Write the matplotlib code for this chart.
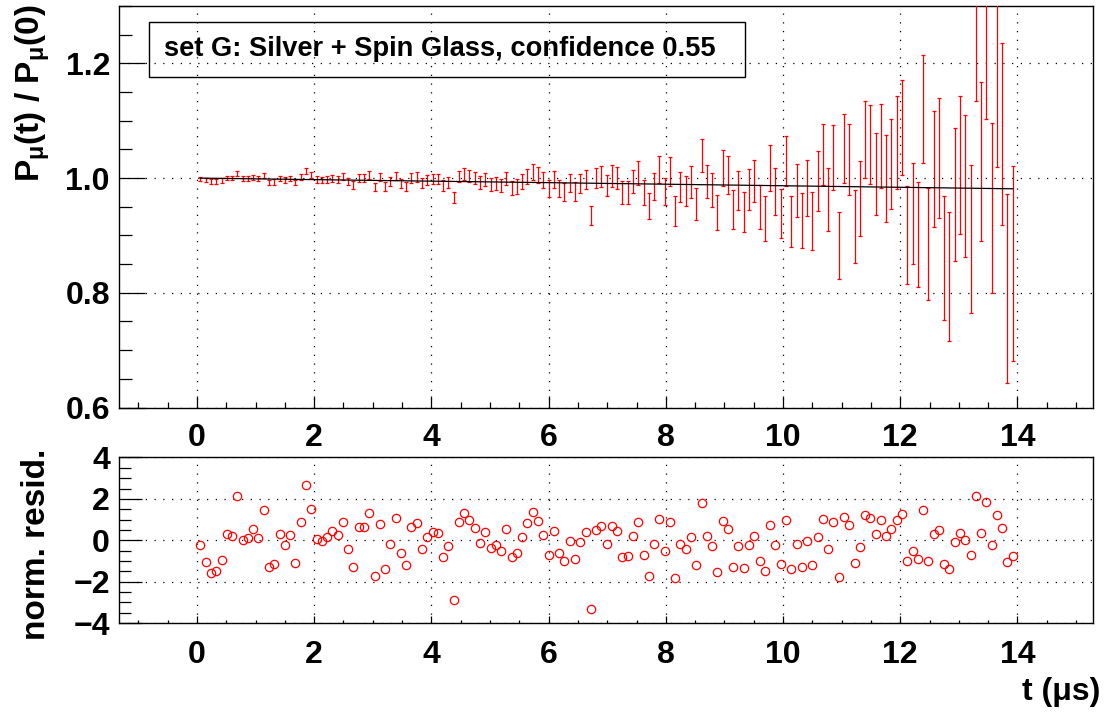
import numpy as np
import matplotlib
matplotlib.use("Agg")
import matplotlib.pyplot as plt
from matplotlib.ticker import MultipleLocator, FormatStrFormatter
from matplotlib.patches import Rectangle

plt.rcParams['font.family'] = ['Liberation Sans', 'DejaVu Sans']
plt.rcParams['font.weight'] = 'bold'
plt.rcParams['mathtext.fontset'] = 'custom'
plt.rcParams['mathtext.rm'] = 'Liberation Sans:bold'
plt.rcParams['mathtext.it'] = 'Liberation Sans:bold'
plt.rcParams['mathtext.bf'] = 'Liberation Sans:bold'

# time bins (us)
t = [0.06, 0.15, 0.24, 0.33, 0.42, 0.51, 0.60, 0.69, 0.78, 0.87,
     0.96, 1.05, 1.14, 1.23, 1.32, 1.41, 1.50, 1.59, 1.68, 1.77,
     1.86, 1.95, 2.04, 2.13, 2.22, 2.31, 2.40, 2.49, 2.58, 2.67,
     2.76, 2.85, 2.94, 3.03, 3.12, 3.21, 3.30, 3.39, 3.48, 3.57,
     3.66, 3.75, 3.84, 3.93, 4.02, 4.11, 4.20, 4.29, 4.38, 4.47,
     4.56, 4.65, 4.74, 4.83, 4.92, 5.01, 5.10, 5.19, 5.28, 5.37,
     5.46, 5.55, 5.64, 5.73, 5.82, 5.91, 6.00, 6.09, 6.18, 6.27,
     6.36, 6.45, 6.54, 6.63, 6.72, 6.81, 6.90, 6.99, 7.08, 7.17,
     7.26, 7.35, 7.44, 7.53, 7.62, 7.71, 7.80, 7.89, 7.98, 8.07,
     8.16, 8.25, 8.34, 8.43, 8.52, 8.61, 8.70, 8.79, 8.88, 8.97,
     9.06, 9.15, 9.24, 9.33, 9.42, 9.51, 9.60, 9.69, 9.78, 9.87,
     9.96, 10.05, 10.14, 10.23, 10.32, 10.41, 10.50, 10.59, 10.68, 10.77,
     10.86, 10.95, 11.04, 11.13, 11.22, 11.31, 11.40, 11.49, 11.58, 11.67,
     11.76, 11.85, 11.94, 12.03, 12.12, 12.21, 12.30, 12.39, 12.48, 12.57,
     12.66, 12.75, 12.84, 12.93, 13.02, 13.11, 13.20, 13.29, 13.38, 13.47,
     13.56, 13.65, 13.74, 13.83, 13.92]

# P(t)/P(0)
pol = [0.9991, 0.9962, 0.9940, 0.9940, 0.9958, 1.0005, 0.9999, 1.0078, 0.9991, 0.9992,
       1.0011, 0.9990, 1.0051, 0.9925, 0.9929, 0.9996, 0.9968, 0.9992, 0.9922, 1.0023,
       1.0117, 1.0055, 0.9976, 0.9971, 0.9980, 0.9997, 0.9982, 1.0020, 0.9939, 0.9881,
       1.0005, 1.0005, 1.0050, 0.9840, 1.0013, 0.9855, 0.9943, 1.0037, 0.9907, 0.9856,
       1.0002, 1.0017, 0.9915, 0.9963, 0.9980, 0.9978, 0.9869, 0.9918, 0.9666, 1.0025,
       1.0074, 1.0041, 0.9998, 0.9921, 0.9980, 0.9889, 0.9908, 0.9870, 0.9993, 0.9831,
       0.9850, 0.9944, 1.0033, 1.0104, 1.0052, 0.9959, 0.9821, 0.9982, 0.9821, 0.9762,
       0.9912, 0.9765, 0.9900, 0.9977, 0.9346, 0.9997, 1.0032, 0.9874, 1.0033, 0.9995,
       0.9743, 0.9752, 0.9941, 1.0084, 0.9748, 0.9508, 0.9855, 1.0142, 0.9768, 1.0112,
       0.9426, 0.9843, 0.9775, 0.9931, 0.9555, 1.0395, 0.9940, 0.9796, 0.9402, 1.0172,
       1.0052, 0.9454, 0.9778, 0.9410, 0.9798, 0.9951, 0.9498, 0.9295, 1.0174, 0.9769,
       0.9384, 1.0301, 0.9239, 0.9780, 0.9260, 0.9832, 0.9251, 0.9951, 1.0406, 0.9620,
       1.0358, 0.8829, 1.0512, 1.0320, 0.9164, 0.9640, 1.0670, 1.0582, 1.0067, 1.0558,
       0.9987, 1.0248, 1.0619, 1.0889, 0.9003, 0.9378, 0.9014, 1.1205, 0.8845, 1.0156,
       1.0355, 0.8603, 0.8289, 0.9711, 1.0235, 0.9862, 0.8933, 1.2678, 1.0291, 1.2465,
       0.9479, 1.1717, 1.0768, 0.8075, 0.8506]

pol_err = [0.0035, 0.0035, 0.0036, 0.0037, 0.0038, 0.0039, 0.0039, 0.0040, 0.0041, 0.0042,
           0.0043, 0.0044, 0.0045, 0.0046, 0.0047, 0.0048, 0.0049, 0.0050, 0.0051, 0.0052,
           0.0053, 0.0054, 0.0055, 0.0056, 0.0058, 0.0059, 0.0060, 0.0061, 0.0063, 0.0064,
           0.0065, 0.0067, 0.0068, 0.0070, 0.0071, 0.0073, 0.0074, 0.0076, 0.0078, 0.0079,
           0.0081, 0.0083, 0.0084, 0.0086, 0.0088, 0.0090, 0.0092, 0.0094, 0.0096, 0.0098,
           0.0100, 0.0103, 0.0105, 0.0107, 0.0110, 0.0112, 0.0115, 0.0117, 0.0120, 0.0123,
           0.0126, 0.0128, 0.0131, 0.0134, 0.0137, 0.0140, 0.0144, 0.0147, 0.0150, 0.0154,
           0.0157, 0.0161, 0.0164, 0.0169, 0.0171, 0.0175, 0.0180, 0.0184, 0.0189, 0.0193,
           0.0198, 0.0203, 0.0208, 0.0213, 0.0218, 0.0224, 0.0229, 0.0235, 0.0241, 0.0247,
           0.0253, 0.0259, 0.0265, 0.0272, 0.0278, 0.0285, 0.0293, 0.0301, 0.0309, 0.0317,
           0.0326, 0.0334, 0.0343, 0.0352, 0.0362, 0.0371, 0.0381, 0.0391, 0.0402, 0.0413,
           0.0424, 0.0435, 0.0447, 0.0461, 0.0474, 0.0489, 0.0503, 0.0518, 0.0533, 0.0549,
           0.0565, 0.0582, 0.0600, 0.0617, 0.0636, 0.0655, 0.0674, 0.0694, 0.0715, 0.0736,
           0.0758, 0.0780, 0.0803, 0.0827, 0.0852, 0.0882, 0.0913, 0.0945, 0.0978, 0.1013,
           0.1048, 0.1085, 0.1123, 0.1163, 0.1203, 0.1246, 0.1289, 0.1335, 0.1381, 0.1430,
           0.1480, 0.1532, 0.1586, 0.1641, 0.1699]

# normalised residuals
resid = [-0.23, -1.03, -1.58, -1.51, -0.95, 0.32, 0.19, 2.16, 0.03, 0.10,
         0.55, 0.10, 1.47, -1.30, -1.13, 0.32, -0.24, 0.26, -1.10, 0.90,
         2.69, 1.50, 0.06, -0.02, 0.18, 0.47, 0.23, 0.87, -0.43, -1.30,
         0.64, 0.64, 1.30, -1.72, 0.77, -1.40, -0.18, 1.08, -0.60, -1.21,
         0.63, 0.81, -0.40, 0.18, 0.39, 0.37, -0.82, -0.27, -2.87, 0.87,
         1.34, 1.00, 0.58, -0.13, 0.42, -0.39, -0.21, -0.52, 0.53, -0.79,
         -0.61, 0.14, 0.82, 1.35, 0.95, 0.27, -0.69, 0.43, -0.64, -1.00,
         -0.02, -0.93, -0.08, 0.39, -3.30, 0.50, 0.69, -0.18, 0.68, 0.47,
         -0.81, -0.74, 0.19, 0.87, -0.69, -1.74, -0.18, 1.05, -0.52, 0.89,
         -1.84, -0.18, -0.43, 0.16, -1.19, 1.79, 0.19, -0.29, -1.55, 0.92,
         0.53, -1.27, -0.29, -1.32, -0.21, 0.21, -0.98, -1.47, 0.76, -0.24,
         -1.14, 1.00, -1.40, -0.18, -1.27, -0.06, -1.21, 0.18, 1.03, -0.43,
         0.89, -1.76, 1.10, 0.76, -1.08, -0.32, 1.22, 1.06, 0.31, 0.97,
         0.19, 0.52, 0.97, 1.27, -0.98, -0.52, -0.90, 1.45, -1.01, 0.32,
         0.50, -1.13, -1.37, -0.10, 0.34, 0.03, -0.69, 2.14, 0.34, 1.85,
         -0.23, 1.24, 0.60, -1.06, -0.77]

# fit curve
fit_t = [0.06, 2.0, 4.0, 6.0, 8.0, 10.0, 12.0, 13.92]
fit_p = [0.9999, 0.9973, 0.9946, 0.9920, 0.9893, 0.9866, 0.9839, 0.9813]

title = 'set G: Silver + Spin Glass, confidence 0.55'

fig = plt.figure(figsize=(11.07, 7.19), dpi=100)
ax1 = fig.add_axes([0.1075, 0.4332, 0.8799, 0.5585])
ax2 = fig.add_axes([0.1075, 0.1335, 0.8799, 0.2302])

grid_style = dict(color='black', linestyle=(0, (1, 6)), linewidth=0.9)

# top panel
ax1.errorbar(t, pol, yerr=pol_err, fmt='none', ecolor='red', elinewidth=0.9,
             capsize=1.3, capthick=0.9, zorder=3)
ax1.plot(fit_t, fit_p, color='black', lw=0.9, zorder=4)
ax1.set_xlim(-1.33, 15.29)
ax1.set_ylim(0.6, 1.3)
ax1.yaxis.set_major_locator(MultipleLocator(0.2))
ax1.yaxis.set_minor_locator(MultipleLocator(0.05))
ax1.yaxis.set_major_formatter(FormatStrFormatter('%.1f'))
ax1.tick_params(axis='y', which='major', length=19, pad=6.5)
ax1.tick_params(axis='y', which='minor', length=9.5)
ax1.tick_params(axis='x', which='major', length=8.6, pad=11)
ax1.tick_params(axis='x', which='minor', length=4.3)

box = Rectangle((0.0308, 0.8232), 0.6119, 0.1369, transform=ax1.transAxes,
                fill=False, edgecolor='black', lw=1.0, zorder=5)
ax1.add_patch(box)
ax1.text(0.3296, 0.8917, title, transform=ax1.transAxes, ha='center', va='center',
         fontsize=19.6, fontweight='bold', zorder=6)

# bottom panel
ax2.plot(t, resid, linestyle='none', marker='o', markersize=6, markerfacecolor='none',
         markeredgecolor='red', markeredgewidth=0.9)
ax2.set_xlim(-1.33, 15.29)
ax2.set_ylim(-4, 4)
ax2.yaxis.set_major_locator(MultipleLocator(2))
ax2.yaxis.set_minor_locator(MultipleLocator(0.5))
ax2.tick_params(axis='y', which='major', length=16.5, pad=6.5)
ax2.tick_params(axis='y', which='minor', length=8.6)
ax2.tick_params(axis='x', which='major', length=5, pad=12)
ax2.tick_params(axis='x', which='minor', length=2.5)

for ax in (ax1, ax2):
    ax.xaxis.set_major_locator(MultipleLocator(2))
    ax.xaxis.set_minor_locator(MultipleLocator(0.5))
    ax.tick_params(which='both', direction='in', top=False, right=False,
                   labelsize=23, width=0.9)
    ax.grid(True, which='major', **grid_style)
    ax.set_axisbelow(True)
    for s in ax.spines.values():
        s.set_linewidth(1.0)
    for lab in ax.get_xticklabels() + ax.get_yticklabels():
        lab.set_fontweight('bold')

fig.text(33 / 1107, 1 - 4 / 719, r'P$_{\mu}$(t) / P$_{\mu}$(0)', rotation=90,
         ha='center', va='top', fontsize=24, fontweight='bold')
fig.text(37 / 1107, 1 - 544 / 719, 'norm. resid.', rotation=90,
         ha='center', va='center', fontsize=24, fontweight='bold')
fig.text(1100 / 1107, 1 - 692 / 719, 't (\u03bcs)', ha='right', va='center',
         fontsize=23, fontweight='bold')

fig.savefig('out.png', dpi=100, facecolor='white')
